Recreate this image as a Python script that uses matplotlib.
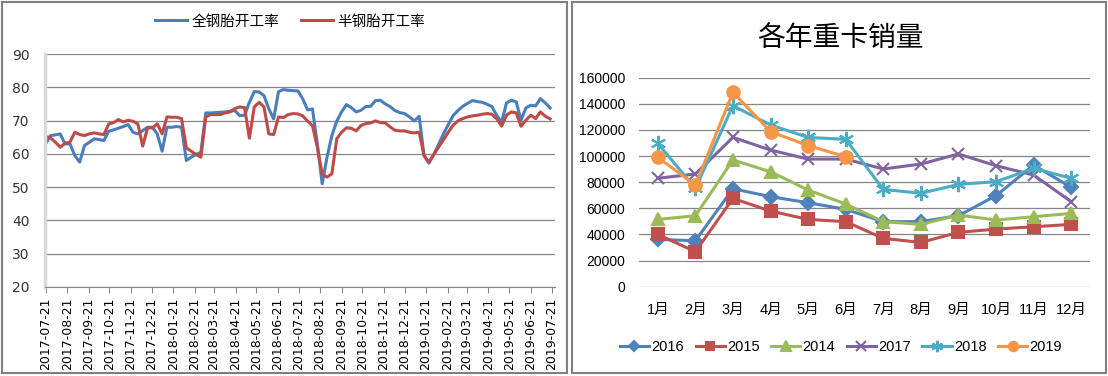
import matplotlib
matplotlib.use("Agg")
import matplotlib.pyplot as plt
import pandas as pd
from matplotlib.patches import Rectangle

plt.rcParams['font.family'] = ['DejaVu Sans', 'Noto Sans CJK SC']

# left chart: weekly operating rate
start = pd.Timestamp(2017, 7, 21)
all_steel = [63, 65.5, 65.7, 66, 63, 63, 59.5, 57.5, 62.5, 63.5,
             64.5, 64.3, 64, 66.8, 67.2, 67.7, 68.2, 68.8, 66.5, 66,
             67, 68, 68, 66, 60.8, 68, 68, 68.2, 68, 58,
             59, 59.8, 60.5, 72.3, 72.3, 72.4, 72.5, 72.6, 72.8, 73,
             71.5, 71.6, 75.5, 78.7, 78.6, 77.5, 73.5, 70.5, 78.7, 79.3,
             79.1, 79.0, 78.9, 76.5, 73.2, 73.5, 63, 51, 59, 65.5,
             69.8, 72.6, 74.8, 73.9, 72.6, 73.1, 74.2, 74.3, 76, 76.1,
             75, 74.2, 73, 72.4, 72.1, 71.1, 69.9, 71.3, 59.5, 57.2,
             59.8, 62.8, 66, 68.8, 71.5, 73, 74.3, 75.2, 76, 75.7,
             75.5, 74.9, 74.2, 71.5, 69.6, 75.3, 76.1, 75.6, 70.1, 73.8,
             74.6, 74.4, 76.6, 75.3, 73.8]
semi_steel = [65.2, 64.8, 63.5, 62, 63.2, 63.5, 66.5, 65.8, 65.5, 66,
              66.3, 66, 65.8, 69, 69.4, 70.3, 69.6, 70.1, 69.8, 69,
              62.3, 67.8, 67.8, 69, 66, 71.1, 71, 71, 70.6, 61.8,
              60.8, 59.8, 59, 71.1, 71.8, 71.8, 71.8, 72.3, 72.6, 73.6,
              74.1, 73.9, 64.7, 74.1, 75.5, 74.1, 66, 65.8, 71.1, 70.9,
              71.8, 72.1, 72.0, 71.4, 69.8, 68.5, 62, 54, 53, 54,
              64.5, 66.5, 67.8, 67.7, 66.9, 68.5, 69.1, 69.3, 69.9, 69.4,
              69.3, 68.1, 67.1, 66.9, 66.9, 66.5, 66.3, 66.5, 59.5, 57.5,
              59.8, 62, 64.2, 66.5, 68.6, 69.9, 70.6, 71.1, 71.4, 71.6,
              71.9, 72.1, 71.9, 70.5, 68.3, 71.6, 72.6, 72.3, 68.3, 70.1,
              71.6, 70.6, 72.6, 71.3, 70.5]
dates = pd.date_range(start, periods=len(all_steel), freq='7D')
month_ticks = [start + pd.DateOffset(months=k) for k in range(25)]

# right chart: monthly heavy truck sales
months = ['1月', '2月', '3月', '4月', '5月', '6月', '7月', '8月', '9月', '10月', '11月', '12月']
sales_2016 = [36200, 35200, 75000, 68900, 64300, 59200, 49800, 49800, 54400, 69700, 93100, 76000]
sales_2015 = [40000, 26800, 67600, 57900, 51500, 49800, 37000, 33900, 41600, 44100, 45900, 47700]
sales_2014 = [51500, 54300, 97000, 88000, 74000, 63300, 49800, 47700, 54900, 51000, 53600, 56100]
sales_2017 = [83000, 86300, 114300, 104600, 97700, 97700, 90100, 93900, 101600, 92600, 85500, 65100]
sales_2018 = [109700, 75300, 138600, 123800, 114300, 112800, 74500, 71500, 78300, 80400, 90600, 83000]
sales_2019 = [99000, 77800, 148800, 118700, 108000, 99500]

W, H = 1108, 376
fig = plt.figure(figsize=(W / 100, H / 100), dpi=100)

def fx(px):
    return px / W

def fy(py):
    return 1 - py / H

# panel frames
fig.add_artist(Rectangle((fx(2), fy(373)), fx(565), 371 / H, transform=fig.transFigure,
                         fill=False, edgecolor='#808080', lw=1.5))
fig.add_artist(Rectangle((fx(572), fy(373)), fx(534), 371 / H, transform=fig.transFigure,
                         fill=False, edgecolor='#808080', lw=1.5))

# ---- left
ax1 = fig.add_axes([fx(45), fy(287), fx(555 - 45), (287 - 54) / H])
ax1.plot(dates, all_steel, color='#4A7EBB', lw=2.2, label='全钢胎开工率')
ax1.plot(dates, semi_steel, color='#BE4B48', lw=2.2, label='半钢胎开工率')
ax1.set_ylim(20, 90)
ax1.set_yticks(range(20, 91, 10))
ax1.set_xlim(pd.Timestamp(2017, 7, 20), pd.Timestamp(2019, 7, 26))
ax1.set_xticks(month_ticks)
ax1.set_xticklabels([t.strftime('%Y-%m-%d') for t in month_ticks], rotation=90, fontsize=9)
ax1.grid(axis='y', color='#868686', lw=0.9)
ax1.set_axisbelow(True)
ax1.spines['top'].set_visible(False)
ax1.spines['right'].set_visible(False)
ax1.spines['left'].set_color('#D9D9D9')
ax1.spines['left'].set_linewidth(2.5)
ax1.spines['bottom'].set_color('#868686')
ax1.tick_params(axis='y', length=0, labelsize=10, pad=11, colors='#333333')
ax1.tick_params(axis='x', direction='out', length=4, color='#868686', pad=3.5)
fig.legend(*ax1.get_legend_handles_labels(), loc='center', bbox_to_anchor=(fx(290), fy(21)),
           ncol=2, frameon=False, fontsize=10.5, handlelength=2.2, columnspacing=1.5,
           handletextpad=0.3)

# ---- right
ax2 = fig.add_axes([fx(639), fy(286.7), fx(1090 - 639), (286.7 - 77.7) / H])
x = list(range(12))
series = [
    ('2016', sales_2016, '#4F81BD', 'D', 7),
    ('2015', sales_2015, '#C0504D', 's', 8),
    ('2014', sales_2014, '#9BBB59', '^', 9),
    ('2017', sales_2017, '#8064A2', 'x', 9),
    ('2018', sales_2018, '#4BACC6', (6, 2, 0), 11),
    ('2019', sales_2019, '#F79646', 'o', 9),
]
for name, vals, col, mk, ms in series:
    ax2.plot(x[:len(vals)], vals, color=col, lw=2.2, marker=mk, markersize=ms,
             markeredgewidth=1.5, label=name)
ax2.set_xlim(-0.5, 11.5)
ax2.set_ylim(0, 160000)
ax2.set_yticks(range(0, 160001, 20000))
ax2.set_xticks(x)
ax2.set_xticklabels(months)
ax2.grid(axis='y', color='#868686', lw=0.9)
ax2.set_axisbelow(True)
for s in ax2.spines.values():
    s.set_visible(False)
ax2.tick_params(axis='y', length=0, labelsize=10, pad=10)
ax2.tick_params(axis='x', length=0, labelsize=10.5, pad=12)
for lab in ax2.get_yticklabels():
    lab.set_family(['Liberation Sans', 'Noto Sans CJK SC'])
for lab in ax2.get_xticklabels():
    lab.set_family(['Liberation Sans', 'Noto Sans CJK SC'])
fig.text(fx(840), fy(38), '各年重卡销量', fontsize=20, ha='center', va='center',
         family=['Noto Sans CJK SC'])
fig.legend(*ax2.get_legend_handles_labels(), loc='center', bbox_to_anchor=(fx(841), fy(347)),
           ncol=6, frameon=False, prop={'family': 'Liberation Sans', 'size': 10.5},
           handlelength=2.0, columnspacing=0.8, handletextpad=0.15, markerscale=0.75)

fig.savefig('out.png', dpi=100)
